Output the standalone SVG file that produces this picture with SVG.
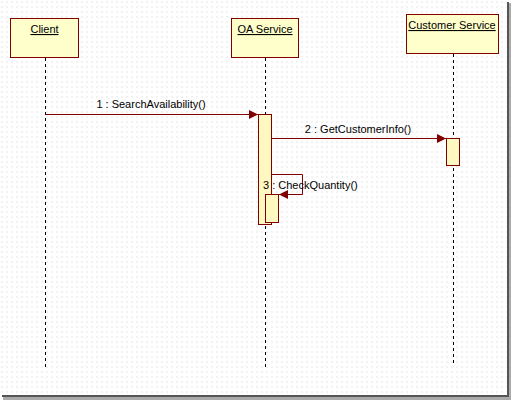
<svg xmlns="http://www.w3.org/2000/svg" width="511" height="400" viewBox="0 0 511 400">
<defs>
<pattern id="grid" x="0" y="0" width="5" height="5" patternUnits="userSpaceOnUse">
<rect x="1" y="1" width="2" height="2" fill="#f2f2f2"/>
</pattern>
<marker id="arr" viewBox="0 0 10 10" refX="10" refY="5" markerWidth="12" markerHeight="9" markerUnits="userSpaceOnUse" orient="auto">
<path d="M0,0 L10,5 L0,10 z" fill="#800000"/>
</marker>
<style>
.box{fill:#ffffcc;stroke:#800000;stroke-width:1}
.act{fill:#fff8c0;stroke:#800000;stroke-width:1}
.life{stroke:#000;stroke-width:1;stroke-dasharray:3,3;fill:none}
.msg{stroke:#800000;stroke-width:1;fill:none}
.name{font-family:"Liberation Sans",Arial,sans-serif;font-size:11px;text-decoration:underline;fill:#000}
.lbl{font-family:"Liberation Sans",Arial,sans-serif;font-size:11px;fill:#000}
</style>
</defs>
<rect width="511" height="400" fill="#ffffff"/>
<rect width="507" height="395" fill="url(#grid)"/>
<rect x="507" y="2" width="2" height="396" fill="#555"/>
<rect x="509" y="3" width="2" height="397" fill="#aaa"/>
<rect x="2" y="395" width="507" height="2" fill="#555"/>
<rect x="3" y="397" width="508" height="3" fill="#aaa"/>

<g id="client">
<rect class="box" x="10.5" y="18.5" width="68" height="39"/>
<text class="name" x="44.5" y="33" text-anchor="middle">Client</text>
<line class="life" x1="45.5" y1="58" x2="45.5" y2="367"/>
</g>
<g id="oa-service">
<rect class="box" x="231.5" y="18.5" width="67" height="39"/>
<text class="name" x="265" y="33" text-anchor="middle">OA Service</text>
<line class="life" x1="265.5" y1="58" x2="265.5" y2="367"/>
<rect class="act" x="258.5" y="114.5" width="13" height="110"/>
<rect class="act" x="265.5" y="194.5" width="13" height="28"/>
</g>
<g id="customer-service">
<rect class="box" x="406.5" y="14.5" width="92" height="39"/>
<text class="name" x="452" y="29" text-anchor="middle">Customer Service</text>
<line class="life" x1="453.5" y1="54" x2="453.5" y2="366"/>
<rect class="act" x="446.5" y="138.5" width="13" height="27"/>
</g>
<g id="connectors">
<line class="msg" x1="45.5" y1="114.5" x2="258" y2="114.5" marker-end="url(#arr)"/>
<text class="lbl" x="151" y="108" text-anchor="middle">1 : SearchAvailability()</text>
<line class="msg" x1="271.5" y1="138.5" x2="446" y2="138.5" marker-end="url(#arr)"/>
<text class="lbl" x="358" y="133" text-anchor="middle">2 : GetCustomerInfo()</text>
<polyline class="msg" points="271.5,174.5 302.5,174.5 302.5,194.5 279,194.5" marker-end="url(#arr)"/>
<text class="lbl" x="263" y="189">3 : CheckQuantity()</text>
</g>
</svg>
